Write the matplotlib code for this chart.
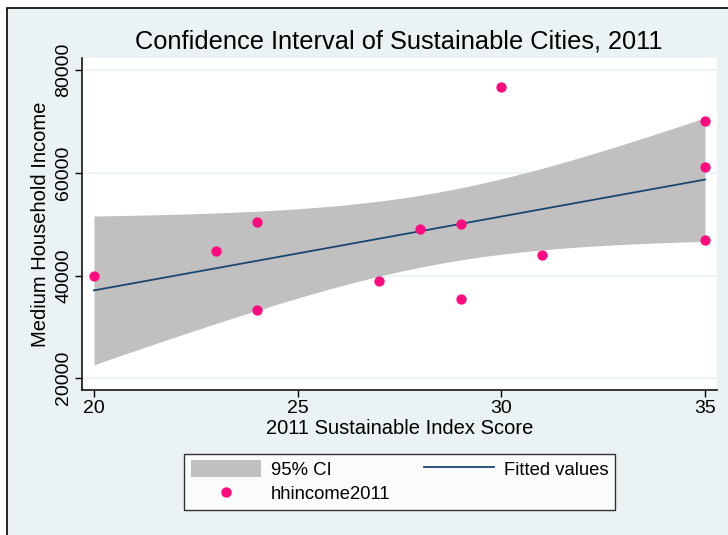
import numpy as np
import matplotlib
matplotlib.use('Agg')
import matplotlib.pyplot as plt
from matplotlib.patches import Rectangle, Patch
from matplotlib.lines import Line2D

plt.rcParams['font.family'] = ['Liberation Sans', 'DejaVu Sans']

# 2011 sustainability index score vs. median household income
score = [20, 23, 24, 24, 27, 28, 29, 29, 30, 31, 35, 35, 35]
income = [40000, 44800, 50400, 33200, 39000, 49100, 50000, 35400,
          76600, 44000, 70000, 61200, 46900]
y_ticks = [20000, 40000, 60000, 80000]
x_ticks = [20, 25, 30, 35]
t_crit = 2.201  # t(0.975, df=11)

BG = '#EAF2F3'
PINK = '#FF0A7F'
NAVY = '#1A476F'
GREY = '#C0C0C0'

x = np.array(score, dtype=float)
y = np.array(income, dtype=float)
n = len(x)
slope, intercept = np.polyfit(x, y, 1)
resid = y - (slope * x + intercept)
s = np.sqrt(np.sum(resid ** 2) / (n - 2))
sxx = np.sum((x - x.mean()) ** 2)
xs = np.linspace(x.min(), x.max(), 200)
fit = slope * xs + intercept
half = t_crit * s * np.sqrt(1 / n + (xs - x.mean()) ** 2 / sxx)

fig = plt.figure(figsize=(7.28, 5.35), dpi=100)
fig.patch.set_facecolor('white')
fig.patches.append(Rectangle((6.5 / 728, -0.05), 1.1, 1.05 - 7.5 / 535,
                             transform=fig.transFigure, facecolor=BG,
                             edgecolor='black', linewidth=1.2, zorder=-10))

ax = fig.add_axes([82 / 728, 1 - 390 / 535, (717 - 82) / 728, (390 - 58) / 535])
ax.set_facecolor('white')
ax.fill_between(xs, fit - half, fit + half, color=GREY, linewidth=0, zorder=2)
ax.plot(xs, fit, color=NAVY, linewidth=1.3, zorder=3)
ax.scatter(x, y, s=55, color=PINK, linewidths=0, zorder=4)

ax.set_xlim(19.705, 35.295)
ax.set_ylim(17724, 82335)
ax.set_xticks(x_ticks)
ax.set_yticks(y_ticks)
ax.set_yticklabels([str(v) for v in y_ticks], rotation=90, va='center')
ax.yaxis.grid(True, color=BG, linewidth=1.2, zorder=0)
ax.set_axisbelow(True)
for side in ('top', 'right'):
    ax.spines[side].set_visible(False)
for side in ('left', 'bottom'):
    ax.spines[side].set_linewidth(1.1)
ax.tick_params(direction='out', length=5, width=1, labelsize=14)
ax.tick_params(axis='y', pad=2)
ax.tick_params(axis='x', pad=2)

ax.set_xlabel('2011 Sustainable Index Score', fontsize=14.5, labelpad=2)
ax.set_ylabel('Medium Household Income', fontsize=14.5, labelpad=4)
fig.text(0.548, 1 - 42 / 535, 'Confidence Interval of Sustainable Cities, 2011',
         ha='center', va='center', fontsize=18.3)

handles = [Patch(facecolor=GREY, edgecolor='none', label='95% CI'),
           Line2D([], [], linestyle='none', marker='o', markersize=7.5,
                  markerfacecolor=PINK, markeredgewidth=0, label='hhincome2011'),
           Line2D([], [], color=NAVY, linewidth=1.3, label='Fitted values')]
leg = fig.legend(handles=handles, ncol=2, loc='center',
                 bbox_to_anchor=(399.7 / 728, 1 - 481.7 / 535), fontsize=13.3,
                 frameon=True, fancybox=False, edgecolor='black',
                 handlelength=3.8, handleheight=1.03, handletextpad=0.54,
                 columnspacing=1.8, borderpad=0.35, labelspacing=0.32)
leg.get_frame().set_linewidth(1.0)
leg.get_frame().set_facecolor('white')

fig.savefig('out.png', dpi=100)
